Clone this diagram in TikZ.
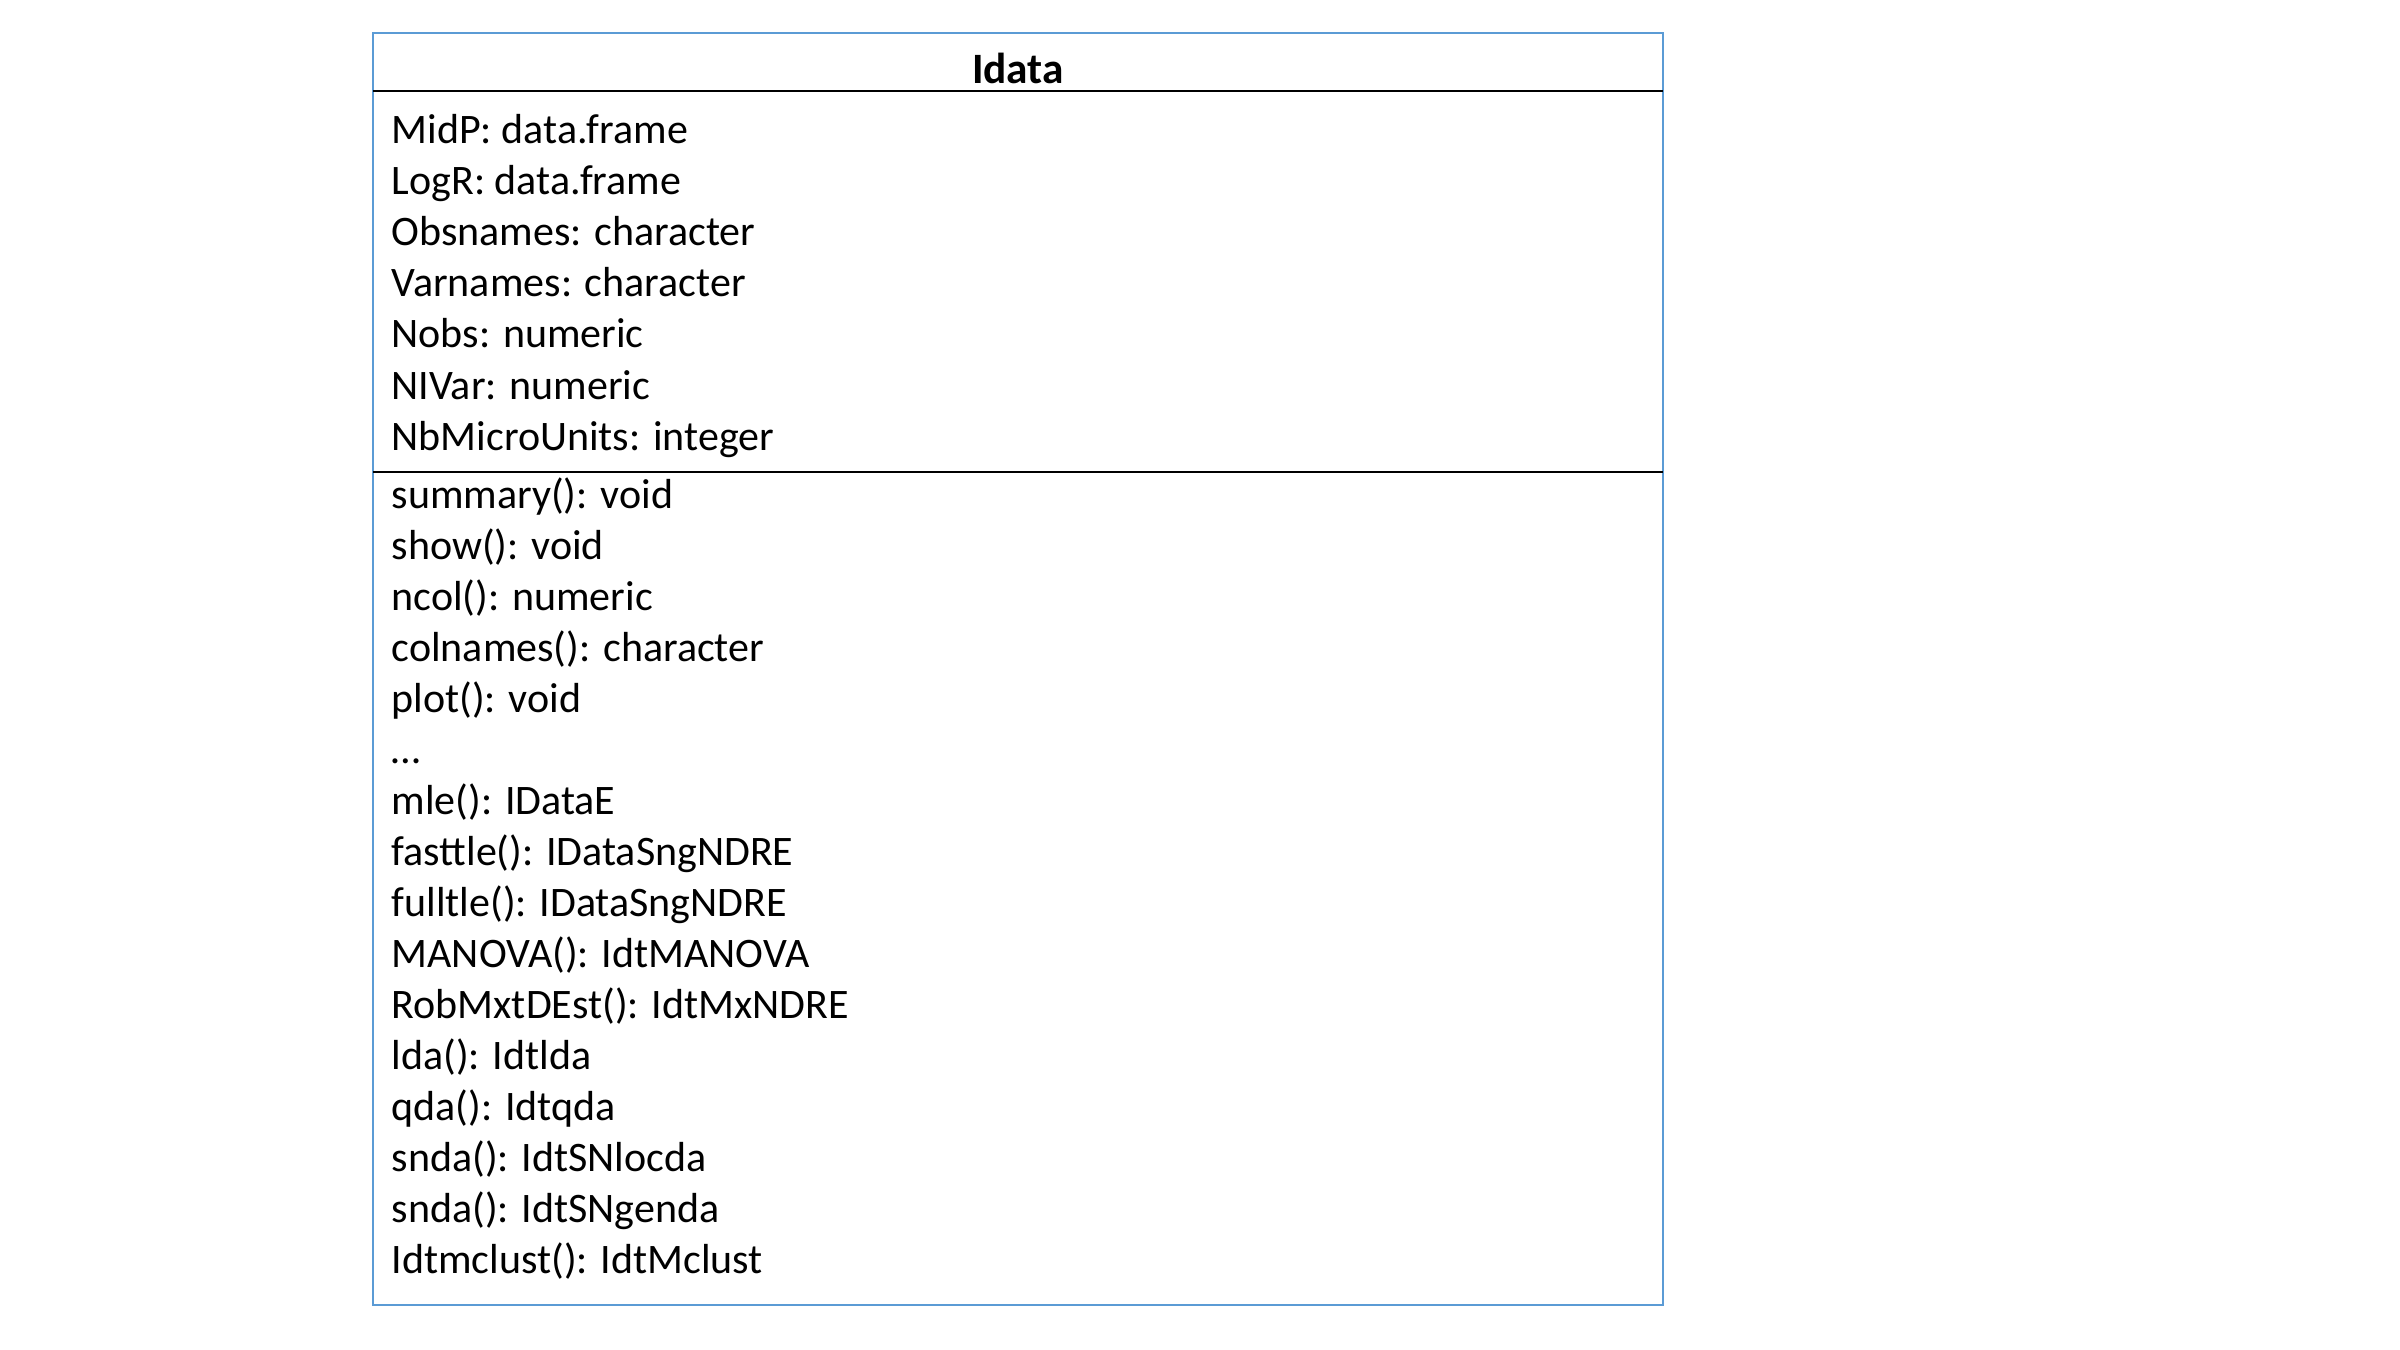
\documentclass[tikz,border=0pt]{standalone}
\usepackage{fontspec}
\setmainfont{Carlito}
\definecolor{boxblue}{HTML}{5B9BD5}
\begin{document}
\begin{tikzpicture}[x=0.3pt,y=-0.3pt,
  classbox/.style={draw=boxblue,line width=0.75pt,fill=none,inner sep=0pt,minimum width=387pt,minimum height=381.6pt},
  divider/.style={draw=black,line width=0.45pt},
  member/.style={anchor=base west,inner sep=0pt,font=\fontsize{12.6pt}{15pt}\selectfont},
  classtitle/.style={anchor=base,inner sep=0pt,font=\fontsize{13pt}{15pt}\selectfont\bfseries}]
\useasboundingbox (0,0) rectangle (2400,1350);
\node[classbox] (box) at (1018,669) {};
\node[classtitle] (title) at (1018,84) {Idata};
\coordinate (d1l) at (373,91);
\coordinate (d1r) at (1663,91);
\coordinate (d2l) at (373,472);
\coordinate (d2r) at (1663,472);
\draw[divider] (d1l) -- (d1r);
\draw[divider] (d2l) -- (d2r);
\node[member] (a1) at (391,144) {MidP: data.frame};
\node[member] (a2) at (391,195) {LogR: data.frame};
\node[member] (a3) at (391,246) {Obsnames: character};
\node[member] (a4) at (391,297) {Varnames: character};
\node[member] (a5) at (391,348) {Nobs: numeric};
\node[member] (a6) at (391,399) {NIVar: numeric};
\node[member] (a7) at (391,450) {NbMicroUnits: integer};
\node[member] (m1) at (391,508) {summary(): void};
\node[member] (m2) at (391,559) {show(): void};
\node[member] (m3) at (391,610) {ncol(): numeric};
\node[member] (m4) at (391,661) {colnames(): character};
\node[member] (m5) at (391,712) {plot(): void};
\node[member] (m6) at (391,763) {…};
\node[member] (m7) at (391,814) {mle(): IDataE};
\node[member] (m8) at (391,865) {fasttle(): IDataSngNDRE};
\node[member] (m9) at (391,916) {fulltle(): IDataSngNDRE};
\node[member] (m10) at (391,967) {MANOVA(): IdtMANOVA};
\node[member] (m11) at (391,1018) {RobMxtDEst(): IdtMxNDRE};
\node[member] (m12) at (391,1069) {lda(): Idtlda};
\node[member] (m13) at (391,1120) {qda(): Idtqda};
\node[member] (m14) at (391,1171) {snda(): IdtSNlocda};
\node[member] (m15) at (391,1222) {snda(): IdtSNgenda};
\node[member] (m16) at (391,1273) {Idtmclust(): IdtMclust};
\end{tikzpicture}
\end{document}
